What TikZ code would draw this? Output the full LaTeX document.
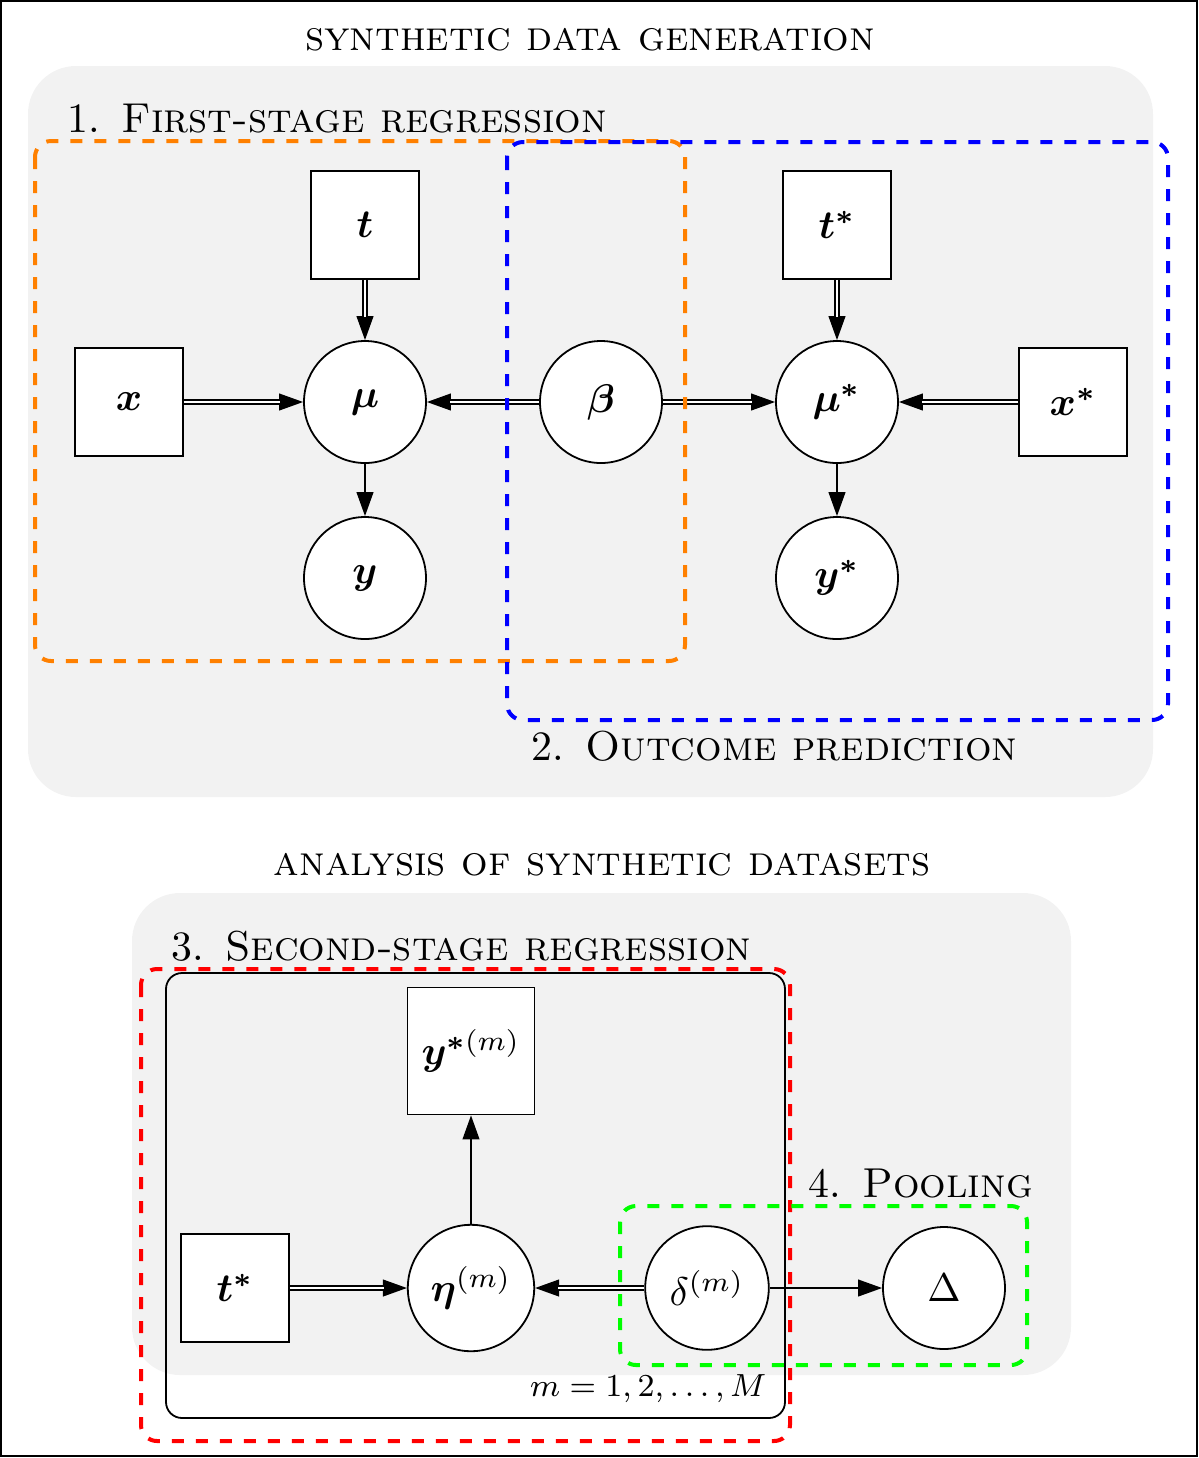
\documentclass[tikz,border=0pt]{standalone}
\usepackage{amsmath,bm}
\usetikzlibrary{arrows.meta}
\begin{document}
\begin{tikzpicture}[x=0.25pt,y=-0.25pt,
  font=\fontsize{10.45pt}{12.5pt}\selectfont,
  obsbox/.style={draw, fill=white, rectangle, minimum size=27pt, inner sep=0pt, line width=0.45pt},
  latnode/.style={draw, fill=white, circle, minimum size=30.5pt, inner sep=0pt, line width=0.45pt},
  tipped/.style={line width=0.4pt, -{Triangle[length=6pt,width=4.2pt]}},
  dblline/.style={line width=0.4pt, double, double distance=0.6pt, shorten >=5.8pt},
  stagebox/.style={dashed, line width=1pt, rounded corners=4pt},
  graybox/.style={fill=gray!10, rounded corners=12pt},
  lbl/.style={anchor=base west, inner sep=0pt}
]
\useasboundingbox (0,0) rectangle (1199,1458);
\draw[line width=0.6pt] (1,1) rectangle (1197,1456);

% backgrounds
\fill[graybox] (28,66) rectangle (1153,797);
\fill[graybox] (132,893) rectangle (1071,1375);

% titles
\node (title1) at (590,40) {\textsc{synthetic data generation}};
\node (title2) at (602,865) {\textsc{analysis of synthetic datasets}};

% stage labels
\node[lbl] (lab1) at (67,132) {1.\enspace\textsc{First-stage regression}};
\node[lbl] (lab2) at (531,760) {2.\enspace\textsc{Outcome prediction}};
\node[lbl] (lab3) at (171,960) {3.\enspace\textsc{Second-stage regression}};
\node[lbl] (lab4) at (808,1197) {4.\enspace\textsc{Pooling}};

% top nodes
\node[obsbox] (t) at (365,225) {$\bm{t}$};
\node[obsbox] (x) at (129,402) {$\bm{x}$};
\node[latnode] (mu) at (365,402) {$\bm{\mu}$};
\node[latnode] (beta) at (601,402) {$\bm{\beta}$};
\node[latnode] (mus) at (837,402) {$\bm{\mu^{*}}$};
\node[obsbox] (ts) at (837,225) {$\bm{t^{*}}$};
\node[obsbox] (xs) at (1073,402) {$\bm{x^{*}}$};
\node[latnode] (y) at (365,578) {$\bm{y}$};
\node[latnode] (ys) at (837,578) {$\bm{y^{*}}$};

% bottom nodes
\node[obsbox, minimum size=31.75pt] (ysm) at (471,1051) {$\bm{y}^{\bm{*}(m)}$};
\node[obsbox] (tsb) at (235,1288) {$\bm{t^{*}}$};
\node[latnode, minimum size=31.6pt] (eta) at (471,1288) {$\bm{\eta}^{(m)}$};
\node[latnode, minimum size=30.9pt] (delta) at (707,1288) {$\delta^{(m)}$};
\node[latnode] (Delta) at (944,1288) {$\Delta$};

% plate
\draw[line width=0.45pt, rounded corners=4pt] (166,973) rectangle (785,1418);
\node[anchor=base east, inner sep=0pt, font=\fontsize{8.3pt}{10pt}\selectfont] (plab) at (767,1396) {$m = 1, 2, \ldots, M$};

% double arrows
\foreach \a/\b in {t/mu, x/mu, beta/mu, beta/mus, ts/mus, xs/mus, tsb/eta, delta/eta}{
  \draw[tipped] (\a) -- (\b);
  \draw[dblline] (\a) -- (\b);
}
% single arrows
\draw[tipped] (mu) -- (y);
\draw[tipped] (mus) -- (ys);
\draw[tipped] (eta) -- (ysm);
\draw[tipped] (delta) -- (Delta);

% stage boxes
\draw[stagebox, orange] (35,141) rectangle (685,661);
\draw[stagebox, blue] (507,142) rectangle (1168,720);
\draw[stagebox, red] (141,969) rectangle (790,1441);
\draw[stagebox, green] (620,1206) rectangle (1027,1365);
\end{tikzpicture}
\end{document}
